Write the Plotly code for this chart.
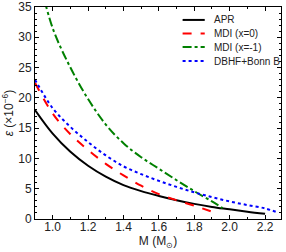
import plotly.graph_objects as go

# APR
apr_m = [0.9, 1.0, 1.1, 1.2, 1.3, 1.4, 1.5, 1.6, 1.7, 1.8, 1.9, 2.0, 2.1, 2.2]
apr_e = [18.0, 14.1, 11.1, 8.8, 7.0, 5.6, 4.6, 3.8, 3.1, 2.5, 2.0, 1.6, 1.2, 0.85]
# MDI (x=0)
mdi0_m = [0.9, 1.0, 1.1, 1.2, 1.3, 1.4, 1.5, 1.6, 1.7, 1.8, 1.9]
mdi0_e = [22.5, 17.4, 14.0, 11.4, 9.1, 7.2, 5.5, 4.1, 3.1, 2.2, 1.2]
# MDI (x=-1)
mdi1_m = [0.93, 1.0, 1.1, 1.2, 1.3, 1.4, 1.5, 1.6, 1.7, 1.8, 1.9, 1.96]
mdi1_e = [39.0, 31.5, 25.0, 19.8, 15.6, 12.5, 10.2, 8.3, 6.4, 4.6, 2.9, 1.8]
# DBHF+Bonn B
dbhf_m = [0.9, 1.0, 1.1, 1.2, 1.3, 1.4, 1.5, 1.6, 1.7, 1.8, 1.9, 2.0, 2.1, 2.2, 2.26]
dbhf_e = [23.0, 18.3, 15.2, 12.7, 10.5, 8.7, 7.4, 6.3, 5.3, 4.4, 3.6, 2.9, 2.3, 1.75, 1.2]

series = [
    ("APR", apr_m, apr_e, "black", "solid", 2),
    ("MDI (x=0)", mdi0_m, mdi0_e, "red", "dash", 2),
    ("MDI (x=-1)", mdi1_m, mdi1_e, "green", "dashdot", 2),
    ("DBHF+Bonn B", dbhf_m, dbhf_e, "blue", "dot", 2),
]

fig = go.Figure()
for name, m, e, c, d, w in series:
    fig.add_trace(go.Scatter(x=m, y=e, mode="lines", name=name, showlegend=False,
                             line=dict(color=c, dash=d, width=w, shape="spline")))

# manual legend (paper coordinates)
leg_y = [0.939, 0.875, 0.811, 0.745]
for (name, m, e, c, d, w), yy in zip(series, leg_y):
    fig.add_shape(type="line", xref="paper", yref="paper", x0=0.60, x1=0.69, y0=yy, y1=yy,
                  line=dict(color=c, dash=d, width=w))
    fig.add_annotation(xref="paper", yref="paper", x=0.72, y=yy, text=name, showarrow=False,
                       xanchor="left", yanchor="middle", font=dict(size=10, color="#222"))

axis_common = dict(showline=True, linecolor="black", linewidth=1, mirror="ticks",
                   ticks="inside", ticklen=4, tickcolor="black", showgrid=False,
                   zeroline=False, automargin=False, tickfont=dict(size=12, color="#222"))
fig.update_xaxes(range=[0.9, 2.29], dtick=0.2, tick0=0, tickformat=".1f",
                 ticklabelstandoff=-3,
                 minor=dict(dtick=0.1, ticks="inside", ticklen=2, tickcolor="black"),
                 title=dict(text="M (M<sub>⊙</sub>)", font=dict(size=12, color="#222"), standoff=0),
                 **axis_common)
fig.update_yaxes(range=[0, 35], dtick=5, tick0=0,
                 minor=dict(dtick=1, ticks="inside", ticklen=2, tickcolor="black"),
                 title=dict(text="<i>ε</i> (×10<sup>−6</sup>)", font=dict(size=12, color="#222"), standoff=2),
                 **axis_common)

fig.update_layout(
    width=286, height=252,
    margin=dict(l=35, r=5, t=7, b=33),
    plot_bgcolor="white", paper_bgcolor="white",
    font=dict(family="Liberation Sans, Arial, sans-serif"),
    showlegend=False,
)

fig.write_html("out.html", config={"displayModeBar": False},
               post_script="document.body.style.margin='0';")
